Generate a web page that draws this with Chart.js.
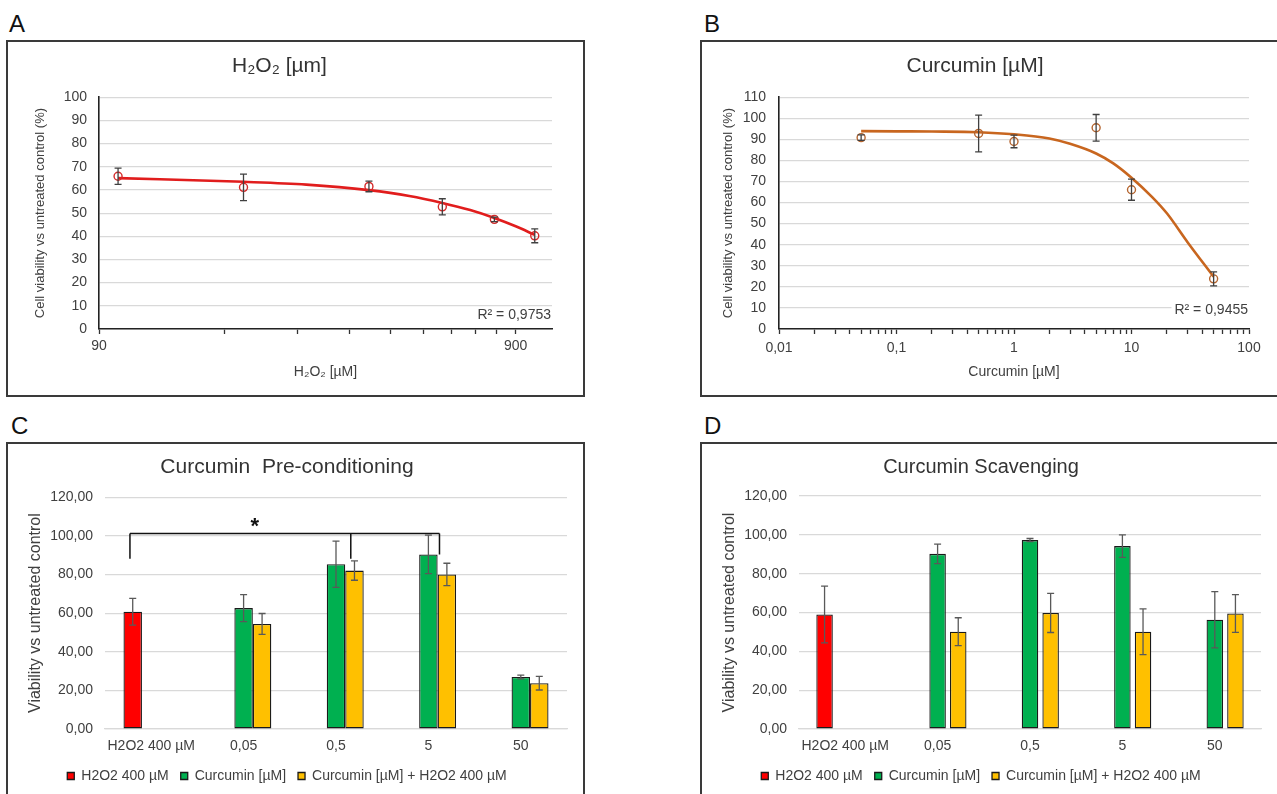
<!DOCTYPE html>
<html>
<head>
<meta charset="utf-8">
<title>Curcumin / H2O2 viability</title>
<script src="https://cdn.jsdelivr.net/npm/chart.js@4.4.1/dist/chart.umd.min.js"></script>
<style>
  html, body { margin: 0; padding: 0; background: #fff; overflow: hidden; }
  body { width: 1277px; height: 794px; position: relative; font-family: "Liberation Sans", Arial, sans-serif; }
  .box { position: absolute; box-sizing: border-box; border: 2px solid #3a3a3a; }
  .letter { position: absolute; font-size: 24px; line-height: 24px; color: #111; }
  canvas { position: absolute; }
</style>
</head>
<body>
<div class="letter" style="left:9px;top:12px">A</div>
<div class="letter" style="left:704px;top:12px">B</div>
<div class="letter" style="left:11px;top:414px">C</div>
<div class="letter" style="left:704px;top:414px">D</div>

<div class="box" style="left:6px;top:40px;width:579px;height:357px"></div>
<div class="box" style="left:700px;top:40px;width:586px;height:357px"></div>
<div class="box" style="left:6px;top:442px;width:579px;height:400px"></div>
<div class="box" style="left:700px;top:442px;width:598px;height:400px"></div>

<canvas id="chartA" width="576" height="354" style="left:7px;top:41px"></canvas>
<canvas id="chartB" width="584" height="354" style="left:701px;top:41px"></canvas>
<canvas id="chartC" width="576" height="351" style="left:7px;top:443px"></canvas>
<canvas id="chartD" width="596" height="351" style="left:701px;top:443px"></canvas>

<script>
Chart.defaults.font.family = '"Liberation Sans", Arial, sans-serif';
Chart.defaults.color = "#404040";
Chart.defaults.animation = false;

// ---- A: H2O2 dose response ----
const aDose = [100, 200, 400, 600, 800, 1000];
const aViability = [65.9, 61.1, 61.5, 52.7, 47.3, 40.2];
const aError = [3.5, 5.7, 2.3, 3.5, 1.0, 3.0];
const aFitDose = [100, 200, 283, 400, 500, 600, 700, 800, 900, 1000];
const aFitViability = [65.1, 63.5, 62.3, 59.9, 57.4, 54.4, 51.3, 47.9, 44.3, 40.6];
const aTicks = [90, 180, 270, 360, 450, 540, 630, 720, 810, 900];
const aTickLabels = ["90", "", "", "", "", "", "", "", "", "900"];
const aR2Label = "R² = 0,9753";

// ---- B: curcumin dose response ----
const bDose = [0.05, 0.5, 1, 5, 10, 50];
const bViability = [90.8, 92.8, 89.0, 95.5, 66.1, 23.8];
const bError = [1.3, 8.7, 3.0, 6.3, 5.0, 3.3];
const bFitDose = [0.05, 0.1, 0.2, 0.5, 1, 2, 3, 5, 7, 10, 15, 20, 30, 50];
const bFitViability = [93.9, 93.8, 93.7, 93.4, 92.4, 90.4, 87.9, 83.3, 78.6, 71.8, 62.6, 54.9, 41.2, 24.8];
const bDecades = [0.01, 0.1, 1, 10, 100];
const bDecadeLabels = ["0,01", "0,1", "1", "10", "100"];
const bMinorSteps = [2, 3, 4, 5, 6, 7, 8, 9];
const bR2Label = "R² = 0,9455";

// ---- C / D: bar charts ----
const barCategories = ["H2O2 400 µM", "0,05", "0,5", "5", "50"];
const barSeriesNames = ["H2O2 400 µM", "Curcumin [µM]", "Curcumin [µM] + H2O2 400 µM"];
const barTickLabels = ["0,00", "20,00", "40,00", "60,00", "80,00", "100,00", "120,00"];

const cH2O2 = [60.7, null, null, null, null];
const cH2O2Err = [6.9, null, null, null, null];
const cCurcumin = [null, 62.6, 85.3, 90.4, 26.9];
const cCurcuminErr = [null, 7.0, 12.0, 10.0, 1.0];
const cCombined = [null, 54.4, 82.0, 80.0, 23.7];
const cCombinedErr = [null, 5.4, 5.0, 5.8, 3.5];

const dH2O2 = [59.0, null, null, null, null];
const dH2O2Err = [14.6, null, null, null, null];
const dCurcumin = [null, 90.2, 97.3, 94.2, 56.3];
const dCurcuminErr = [null, 5.0, 0.8, 5.8, 14.5];
const dCombined = [null, 50.1, 59.8, 50.1, 59.5];
const dCombinedErr = [null, 7.2, 10.1, 11.8, 9.7];

// significance bracket in panel C (category index units, y in %)
const cBracketAt = [-0.23, 2.16, 3.12];
const cBracketLow = [88.2, 88.2, 90.4];
const cBracketTop = 101.2;
const cStarAt = 1.12;
const cStarY = 104.5;

const barColors = ["#ff0000", "#00b050", "#ffc000"];

// error bars for any dataset carrying an `errors` array
const errorBars = {
  id: "errorBars",
  afterDatasetsDraw(chart) {
    const ctx = chart.ctx;
    const ys = chart.scales.y;
    chart.data.datasets.forEach((ds, di) => {
      if (!ds.errors) return;
      const meta = chart.getDatasetMeta(di);
      ctx.save();
      ctx.strokeStyle = ds.errorColor || "#595959";
      ctx.lineWidth = 1.3;
      meta.data.forEach((el, i) => {
        const raw = ds.data[i];
        const v = raw !== null && typeof raw === "object" ? raw.y : raw;
        const e = ds.errors[i];
        if (v == null || e == null) return;
        const x = el.x;
        const top = ys.getPixelForValue(v + e);
        const bot = ys.getPixelForValue(v - e);
        ctx.beginPath();
        ctx.moveTo(x, top); ctx.lineTo(x, bot);
        ctx.moveTo(x - 3.5, top); ctx.lineTo(x + 3.5, top);
        ctx.moveTo(x - 3.5, bot); ctx.lineTo(x + 3.5, bot);
        ctx.stroke();
      });
      ctx.restore();
    });
  }
};

// R² label at the bottom right of the plot
const rSquared = {
  id: "rSquared",
  afterDatasetsDraw(chart, args, opts) {
    if (!opts.text) return;
    const ctx = chart.ctx;
    const x = chart.chartArea.right - 1;
    const y = chart.scales.y.getPixelForValue(opts.y);
    ctx.save();
    ctx.font = '14px "Liberation Sans", Arial, sans-serif';
    const w = ctx.measureText(opts.text).width;
    ctx.fillStyle = "#fff";
    ctx.fillRect(x - w - 3, y - 8, w + 4, 16);
    ctx.fillStyle = "#404040";
    ctx.textAlign = "right";
    ctx.textBaseline = "middle";
    ctx.fillText(opts.text, x, y);
    ctx.restore();
  }
};

const sigBracket = {
  id: "sigBracket",
  afterDatasetsDraw(chart) {
    const ctx = chart.ctx;
    const xs = chart.scales.x, ys = chart.scales.y;
    const x0 = xs.getPixelForValue(0);
    const step = xs.getPixelForValue(1) - x0;
    const px = f => x0 + f * step;
    const top = ys.getPixelForValue(cBracketTop);
    ctx.save();
    ctx.strokeStyle = "#111";
    ctx.lineWidth = 1.5;
    ctx.beginPath();
    ctx.moveTo(px(cBracketAt[0]), top);
    ctx.lineTo(px(cBracketAt[cBracketAt.length - 1]), top);
    cBracketAt.forEach((f, k) => {
      ctx.moveTo(px(f), top);
      ctx.lineTo(px(f), ys.getPixelForValue(cBracketLow[k]));
    });
    ctx.stroke();
    ctx.fillStyle = "#111";
    ctx.font = 'bold 22px "Liberation Sans", Arial, sans-serif';
    ctx.textAlign = "center";
    ctx.textBaseline = "middle";
    ctx.fillText("*", px(cStarAt), ys.getPixelForValue(cStarY));
    ctx.restore();
  }
};

const toPoints = (xs, ys) => xs.map((x, i) => ({ x: x, y: ys[i] }));

function curveChart(id, cfg) {
  return new Chart(document.getElementById(id), {
    type: "scatter",
    data: {
      datasets: [
        {
          label: "data",
          data: toPoints(cfg.dose, cfg.viability),
          errors: cfg.errors,
          errorColor: "#404040",
          showLine: false,
          pointRadius: 4,
          pointBorderWidth: 1.4,
          pointBorderColor: cfg.markerColor,
          pointBackgroundColor: "rgba(255,255,255,0)"
        },
        {
          label: "fit",
          data: toPoints(cfg.fitDose, cfg.fitViability),
          showLine: true,
          borderColor: cfg.lineColor,
          borderWidth: 2.6,
          pointRadius: 0,
          cubicInterpolationMode: "monotone"
        }
      ]
    },
    options: {
      responsive: false,
      layout: { padding: { left: 0, right: cfg.padRight, top: 0, bottom: 0 } },
      plugins: {
        legend: { display: false },
        tooltip: { enabled: false },
        title: {
          display: true,
          text: cfg.title,
          color: "#333",
          font: { size: 21, weight: "normal" },
          padding: { top: 13, bottom: 18 }
        },
        rSquared: { text: cfg.r2, y: cfg.r2Y }
      },
      scales: {
        x: {
          type: "logarithmic",
          min: cfg.xMin,
          max: cfg.xMax,
          afterBuildTicks: s => { s.ticks = cfg.ticks.map(v => ({ value: v })); },
          afterFit: s => { s.height = 66; },
          ticks: {
            autoSkip: false,
            maxRotation: 0,
            padding: cfg.xTickPad,
            font: { size: 14 },
            callback: (v, i) => cfg.tickLabels[i]
          },
          grid: { drawOnChartArea: false, drawTicks: true, tickLength: 5, tickColor: "#333", tickWidth: 1.3 },
          border: { color: "#222", width: 1.6 },
          title: {
            display: true,
            text: cfg.xTitle,
            font: { size: 14 },
            padding: { top: 0, bottom: 14.6 }
          }
        },
        y: {
          min: 0,
          max: cfg.yMax,
          afterFit: s => { s.width = cfg.yWidth; },
          ticks: { stepSize: 10, padding: cfg.yTickPad, font: { size: 14 } },
          grid: { color: "#d9d9d9", lineWidth: 1.2, drawTicks: false },
          border: { color: "#222", width: 1.6 },
          title: {
            display: true,
            text: "Cell viability vs untreated control (%)",
            font: { size: 13 },
            padding: { top: cfg.yTitlePad, bottom: 0 }
          }
        }
      }
    },
    plugins: [errorBars, rSquared]
  });
}

function barChart(id, cfg) {
  const series = [cfg.h2o2, cfg.curcumin, cfg.combined];
  const errs = [cfg.h2o2Err, cfg.curcuminErr, cfg.combinedErr];
  return new Chart(document.getElementById(id), {
    type: "bar",
    data: {
      labels: barCategories,
      datasets: series.map((vals, k) => ({
        label: barSeriesNames[k],
        data: vals,
        errors: errs[k],
        backgroundColor: barColors[k],
        borderColor: "#1a1a1a",
        borderWidth: 1.3,
        borderSkipped: false
      }))
    },
    options: {
      responsive: false,
      layout: { padding: { left: 0, right: cfg.padRight, top: 0, bottom: 1 } },
      datasets: { bar: { barPercentage: cfg.barPct, categoryPercentage: cfg.catPct } },
      plugins: {
        tooltip: { enabled: false },
        legend: {
          position: "bottom",
          labels: { boxWidth: 7, boxHeight: 7, padding: 12, font: { size: 14 }, color: "#404040" }
        },
        title: {
          display: true,
          text: cfg.title,
          color: "#333",
          font: { size: cfg.titleSize, weight: "normal" },
          padding: { top: 12, bottom: 17 }
        }
      },
      scales: {
        x: {
          afterFit: s => { s.height = 28; },
          grid: { display: false },
          border: { color: "#d9d9d9", width: 1.3 },
          ticks: { padding: 1, font: { size: 14 }, autoSkip: false, maxRotation: 0, minRotation: 0 }
        },
        y: {
          min: 0,
          max: 120,
          afterFit: s => { s.width = 98; },
          ticks: { stepSize: 20, padding: 12, font: { size: 14 }, callback: v => barTickLabels[Math.round(v / 20)] },
          grid: { color: "#d9d9d9", lineWidth: 1.2, drawTicks: false },
          border: { display: false },
          title: {
            display: true,
            text: "Viability vs untreated control",
            font: { size: 16 },
            padding: { top: 19.4, bottom: 0 }
          }
        }
      }
    },
    plugins: cfg.extraPlugins
  });
}

// B log ticks: every integer multiple inside each decade, labels on decades only
const bTicks = [];
const bTickLabels = [];
bDecades.forEach((d, k) => {
  bTicks.push(d);
  bTickLabels.push(bDecadeLabels[k]);
  if (k < bDecades.length - 1) {
    bMinorSteps.forEach(m => { bTicks.push(d * m); bTickLabels.push(""); });
  }
});

curveChart("chartA", {
  dose: aDose, viability: aViability, errors: aError,
  fitDose: aFitDose, fitViability: aFitViability,
  markerColor: "#d42a2a", lineColor: "#e11d1d",
  title: "H₂O₂ [µm]", xTitle: "H₂O₂ [µM]",
  xMin: 90, xMax: 1100, ticks: aTicks, tickLabels: aTickLabels,
  yMax: 100, yWidth: 92, yTickPad: 12, yTitlePad: 26, xTickPad: 3.3,
  padRight: 31, r2: aR2Label, r2Y: 5.8
});

curveChart("chartB", {
  dose: bDose, viability: bViability, errors: bError,
  fitDose: bFitDose, fitViability: bFitViability,
  markerColor: "#b5652f", lineColor: "#c8661f",
  title: "Curcumin [µM]", xTitle: "Curcumin [µM]",
  xMin: 0.01, xMax: 100, ticks: bTicks, tickLabels: bTickLabels,
  yMax: 110, yWidth: 78, yTickPad: 13, yTitlePad: 19.2, xTickPad: 6,
  padRight: 36, r2: bR2Label, r2Y: 9
});

barChart("chartC", {
  title: "Curcumin  Pre-conditioning", titleSize: 21,
  h2o2: cH2O2, h2o2Err: cH2O2Err,
  curcumin: cCurcumin, curcuminErr: cCurcuminErr,
  combined: cCombined, combinedErr: cCombinedErr,
  barPct: 1, catPct: 0.6, padRight: 16,
  extraPlugins: [errorBars, sigBracket]
});

barChart("chartD", {
  title: "Curcumin Scavenging", titleSize: 20,
  h2o2: dH2O2, h2o2Err: dH2O2Err,
  curcumin: dCurcumin, curcuminErr: dCurcuminErr,
  combined: dCombined, combinedErr: dCombinedErr,
  barPct: 0.8, catPct: 0.67, padRight: 36,
  extraPlugins: [errorBars]
});
</script>
</body>
</html>
